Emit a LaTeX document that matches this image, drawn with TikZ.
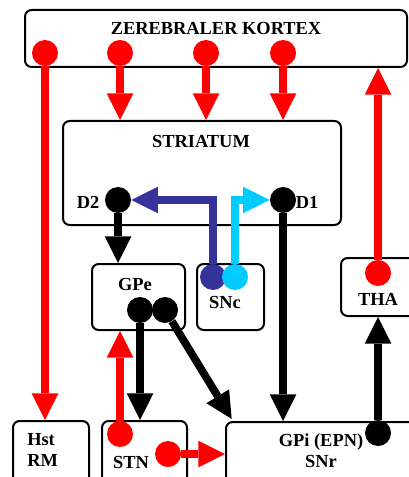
\documentclass[tikz,border=0pt]{standalone}
\usepackage{fontspec}
\setmainfont{Liberation Serif}
\usetikzlibrary{arrows.meta,fit}
\definecolor{dblue}{HTML}{333399}
\definecolor{lblue}{HTML}{00CCFF}

\begin{document}
\begin{tikzpicture}[x=0.75pt,y=-0.75pt,
    box/.style={draw,line width=1.5pt,rounded corners=5pt,inner sep=0pt},
    lbl/.style={inner sep=0pt,font=\fontsize{13.8}{15.75}\selectfont\bfseries},
    dot/.style={circle,fill=#1,inner sep=0pt,minimum size=19.5pt},
    link/.style={line width=5.8pt,draw=#1,-{Triangle[width=20pt,length=20pt,line width=0pt,fill=#1]}},
    redlink/.style={link=red,line width=6.6pt}]
  \useasboundingbox (0,0) rectangle (409,477);
  % boxes
  \node[box,fit={(25,10) (407,67)}] (ctx) {};
  \node[box,fit={(63,121) (341,225)}] (stri) {};
  \node[box,fit={(92,264) (185,330)}] (gpe) {};
  \node[box,fit={(197,264) (264,330)}] (snc) {};
  \node[box,fit={(341,258) (420,316)}] (tha) {};
  \node[box,fit={(13,421) (89,492)}] (hst) {};
  \node[box,fit={(102,421) (187,492)}] (stn) {};
  \node[box,fit={(226,422) (420,492)}] (gpi) {};
  % labels
  \node[lbl,anchor=base] (ctxl) at (216,35) {ZEREBRALER KORTEX};
  \node[lbl,anchor=base] (stril) at (201,148) {STRIATUM};
  \node[lbl,anchor=base] (d2l) at (88,208) {D2};
  \node[lbl,anchor=base] (d1l) at (307,208) {D1};
  \node[lbl,anchor=base] (gpel) at (135,290) {GPe};
  \node[lbl,anchor=base] (sncl) at (225,308) {SNc};
  \node[lbl,anchor=base] (thal) at (378,305) {THA};
  \node[lbl,anchor=north west,align=left] (hstl) at (27,433) {Hst\\RM};
  \node[lbl,anchor=base] (stnl) at (131,468) {STN};
  \node[lbl,anchor=north,align=center] (gpil) at (321,433) {GPi (EPN)\\SNr};
  % dots
  \node[dot=red] (c1) at (45,53) {};
  \node[dot=red] (c2) at (120,53) {};
  \node[dot=red] (c3) at (206,53) {};
  \node[dot=red] (c4) at (283,53) {};
  \node[dot=black] (d2) at (118,200) {};
  \node[dot=black] (d1) at (283,200) {};
  \node[dot=dblue] (sa) at (213,277) {};
  \node[dot=lblue] (sb) at (235,277) {};
  \node[dot=black] (g1) at (140,310) {};
  \node[dot=black] (g2) at (165,310) {};
  \node[dot=red] (t1) at (378,273) {};
  \node[dot=red] (s1) at (120,434) {};
  \node[dot=red] (s2) at (168,454) {};
  \node[dot=black] (p1) at (378,433) {};
  % connections
  \draw[redlink] (c1) -- (c1 |- hst.north);
  \draw[redlink] (c2) -- (c2 |- stri.north);
  \draw[redlink] (c3) -- (c3 |- stri.north);
  \draw[redlink] (c4) -- (c4 |- stri.north);
  \draw[redlink] (t1) -- (t1 |- ctx.south);
  \draw[link=black] (d2) -- (d2 |- gpe.north);
  \draw[link=black] (d1) -- (d1 |- gpi.north);
  \draw[link=dblue] (sa) |- (d2);
  \draw[link=lblue] (sb) |- (d1);
  \draw[link=black] (g1) -- (g1 |- stn.north);
  \draw[link=black] (g2) -- ([xshift=5pt,yshift=1.5pt]gpi.north west);
  \draw[redlink] (s1) -- (s1 |- gpe.south);
  \draw[redlink] (s2) -- (s2 -| gpi.west);
  \draw[link=black] (p1) -- (p1 |- tha.south);
\end{tikzpicture}
\end{document}
